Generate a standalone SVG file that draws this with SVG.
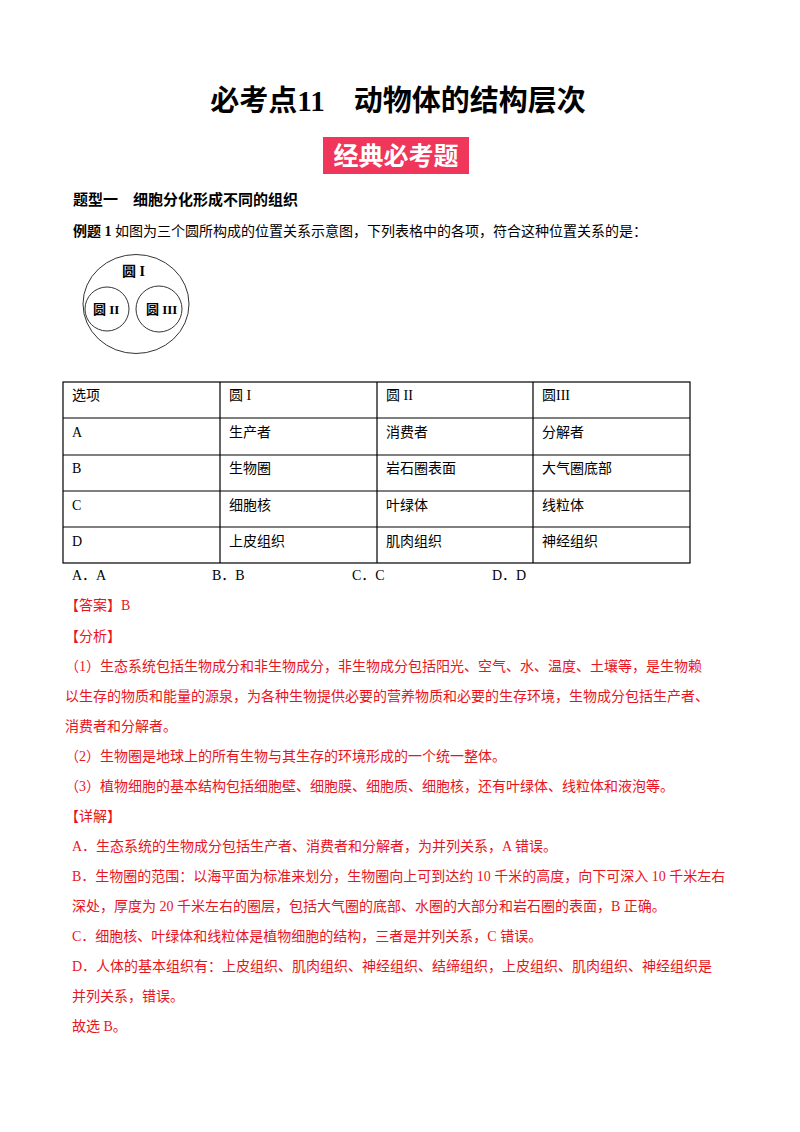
<svg xmlns="http://www.w3.org/2000/svg" width="800" height="1132" viewBox="0 0 800 1132">
<style>
text{font-family:"Liberation Serif","Noto Sans CJK SC",serif;font-size:14px;fill:#000}
.r{fill:#e8141e}
.b{font-weight:bold}
.s{font-family:"Noto Sans CJK SC",sans-serif}
.g{fill:none;stroke:#000;stroke-width:1.2}
</style>
<rect width="800" height="1132" fill="#fff"/>
<text x="398" y="111" text-anchor="middle" class="b" style="font-size:29px">必考点11　动物体的结构层次</text>
<g id="badge"><rect x="323" y="137" width="146" height="37" fill="#f0365a"/>
<text x="396" y="165" text-anchor="middle" class="b s" style="font-size:25px;fill:#fff">经典必考题</text></g>
<text x="73" y="205" class="b s" style="font-size:15px">题型一　细胞分化形成不同的组织</text>
<text x="73" y="236"><tspan class="b">例题 1</tspan> 如图为三个圆所构成的位置关系示意图，下列表格中的各项，符合这种位置关系的是：</text>
<g id="circles" fill="none" stroke="#333" stroke-width="1">
<ellipse cx="136" cy="304" rx="53" ry="49.5"/>
<circle cx="107" cy="309" r="22"/>
<circle cx="159" cy="309" r="23"/>
</g>
<text x="122" y="276" class="b" style="font-size:14px">圆 I</text>
<text x="93" y="314" class="b" style="font-size:13px">圆 II</text>
<text x="146" y="314" class="b" style="font-size:13px">圆 III</text>
<g id="table" class="g">
<rect x="63" y="382" width="627" height="181"/>
<path d="M63 418H690M63 455H690M63 491H690M63 527H690M220 382V563M377 382V563M533 382V563"/>
</g>
<g>
<text x="72" y="400">选项</text><text x="229" y="400">圆 I</text><text x="386" y="400">圆 II</text><text x="542" y="400">圆III</text>
<text x="72" y="437">A</text><text x="229" y="437">生产者</text><text x="386" y="437">消费者</text><text x="542" y="437">分解者</text>
<text x="72" y="473">B</text><text x="229" y="473">生物圈</text><text x="386" y="473">岩石圈表面</text><text x="542" y="473">大气圈底部</text>
<text x="72" y="510">C</text><text x="229" y="510">细胞核</text><text x="386" y="510">叶绿体</text><text x="542" y="510">线粒体</text>
<text x="72" y="546">D</text><text x="229" y="546">上皮组织</text><text x="386" y="546">肌肉组织</text><text x="542" y="546">神经组织</text>
</g>
<text x="72" y="580">A．A</text><text x="212" y="580">B．B</text><text x="352" y="580">C．C</text><text x="492" y="580">D．D</text>
<text x="65" y="610" class="r">【答案】B</text>
<text x="65" y="641" class="r">【分析】</text>
<text x="65" y="671" class="r">（1）生态系统包括生物成分和非生物成分，非生物成分包括阳光、空气、水、温度、土壤等，是生物赖</text>
<text x="65" y="701" class="r">以生存的物质和能量的源泉，为各种生物提供必要的营养物质和必要的生存环境，生物成分包括生产者、</text>
<text x="65" y="731" class="r">消费者和分解者。</text>
<text x="65" y="761" class="r">（2）生物圈是地球上的所有生物与其生存的环境形成的一个统一整体。</text>
<text x="65" y="791" class="r">（3）植物细胞的基本结构包括细胞壁、细胞膜、细胞质、细胞核，还有叶绿体、线粒体和液泡等。</text>
<text x="65" y="821" class="r">【详解】</text>
<text x="72" y="851" class="r">A．生态系统的生物成分包括生产者、消费者和分解者，为并列关系，A 错误。</text>
<text x="72" y="881" class="r">B．生物圈的范围：以海平面为标准来划分，生物圈向上可到达约 10 千米的高度，向下可深入 10 千米左右</text>
<text x="72" y="911" class="r">深处，厚度为 20 千米左右的圈层，包括大气圈的底部、水圈的大部分和岩石圈的表面，B 正确。</text>
<text x="72" y="941" class="r">C．细胞核、叶绿体和线粒体是植物细胞的结构，三者是并列关系，C 错误。</text>
<text x="72" y="971" class="r">D．人体的基本组织有：上皮组织、肌肉组织、神经组织、结缔组织，上皮组织、肌肉组织、神经组织是</text>
<text x="72" y="1001" class="r">并列关系，错误。</text>
<text x="72" y="1031" class="r">故选 B。</text>
</svg>
